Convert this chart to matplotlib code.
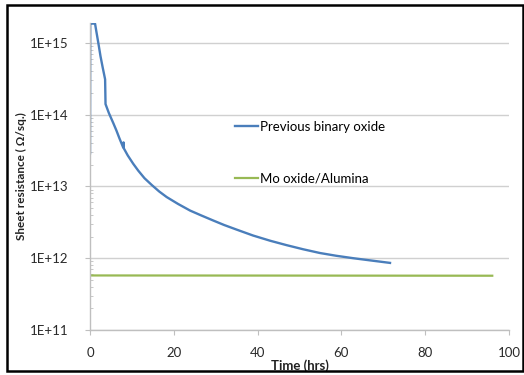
import math

import matplotlib
matplotlib.use("Agg")
import matplotlib.pyplot as plt
from matplotlib.patches import Rectangle
from matplotlib.ticker import LogLocator, NullFormatter, FuncFormatter

plt.rcParams["font.family"] = ["Lato", "Noto Sans", "DejaVu Sans"]

# Previous binary oxide (blue)
binary_hours = [0, 0.05, 0.3, 1.2, 1.5, 2.0, 2.5, 3.0, 3.6, 3.7, 4.5, 5.6, 6.3, 7.0, 7.9, 8.0,
                8.05, 9.0, 10.3, 11.5, 13.0, 14.7, 16.5, 18.3, 21.0, 23.9, 26.5, 29.4, 32.0,
                35.0, 38.9, 43.0, 46.9, 50.9, 54.9, 58.8, 62.8, 67.0, 71.6]
binary_rs = [2.9e13, 1.85e15, 1.85e15, 1.85e15, 1.45e15, 9.8e14, 6.5e14, 4.6e14, 3.1e14, 1.4e14,
             1.05e14, 7.5e13, 6.0e13, 4.7e13, 3.5e13, 4.1e13, 3.4e13, 2.7e13, 2.07e13, 1.66e13,
             1.3e13, 1.05e13, 8.5e12, 7.1e12, 5.7e12, 4.6e12, 3.95e12, 3.35e12, 2.9e12,
             2.5e12, 2.07e12, 1.75e12, 1.52e12, 1.33e12, 1.18e12, 1.08e12, 1.0e12, 9.3e11,
             8.6e11]

# Mo oxide/Alumina (green)
mo_hours = [0, 96]
mo_rs = [5.75e11, 5.7e11]

x_ticks = [0, 20, 40, 60, 80, 100]

fig = plt.figure(figsize=(5.24, 3.75), dpi=100)
ax = fig.add_axes([0.1718, 0.12, 0.7996, 0.8193])

ax.plot(binary_hours, binary_rs, color="#4a7ebb", lw=1.7, label="Previous binary oxide")
ax.plot(mo_hours, mo_rs, color="#98b954", lw=1.6, label="Mo oxide/Alumina")

ax.set_yscale("log")
ax.set_ylim(1e11, 1.9e15)
ax.set_xlim(0, 100)
ax.set_xticks(x_ticks)
ax.yaxis.set_major_locator(LogLocator(base=10, numticks=10))
ax.yaxis.set_minor_locator(LogLocator(base=10, subs=range(2, 10), numticks=20))
ax.yaxis.set_minor_formatter(NullFormatter())
ax.yaxis.set_major_formatter(FuncFormatter(lambda v, p: "1E+%d" % round(math.log10(v))))

for s in ["top", "right"]:
    ax.spines[s].set_visible(False)
for s in ["left", "bottom"]:
    ax.spines[s].set_color("#bfbfbf")
    ax.spines[s].set_linewidth(1.0)

ax.grid(axis="y", which="major", color="#d0d0d0", lw=1.0)
ax.set_axisbelow(True)
ax.tick_params(axis="both", which="major", direction="out", length=3.5, color="#bfbfbf",
               labelsize=9.5, labelcolor="#2a2a2a")
ax.tick_params(axis="y", which="major", pad=12)
ax.tick_params(axis="x", which="major", pad=9)
ax.tick_params(axis="y", which="minor", direction="in", length=2.5, color="#bfbfbf")

ax.set_xlabel("Time (hrs)", fontsize=9.5, fontweight="bold", labelpad=0, color="#222222")
ax.set_ylabel("Sheet resistance ( Ω/sq.)", fontsize=8.5, fontweight="bold", color="#222222",
              family=["Lato", "Noto Sans"])
ax.yaxis.set_label_coords(-0.15, 0.5)

ax.legend(loc="upper left", bbox_to_anchor=(0.346, 0.68), frameon=False, fontsize=9.5,
          handlelength=1.75, handletextpad=0.15, labelspacing=3.0, borderpad=0,
          borderaxespad=0)

fig.patches.append(Rectangle((0.0134, 0.0107), 0.985, 0.976, transform=fig.transFigure,
                             fill=False, edgecolor="black", lw=1.8))

fig.savefig("out.png", dpi=100)
